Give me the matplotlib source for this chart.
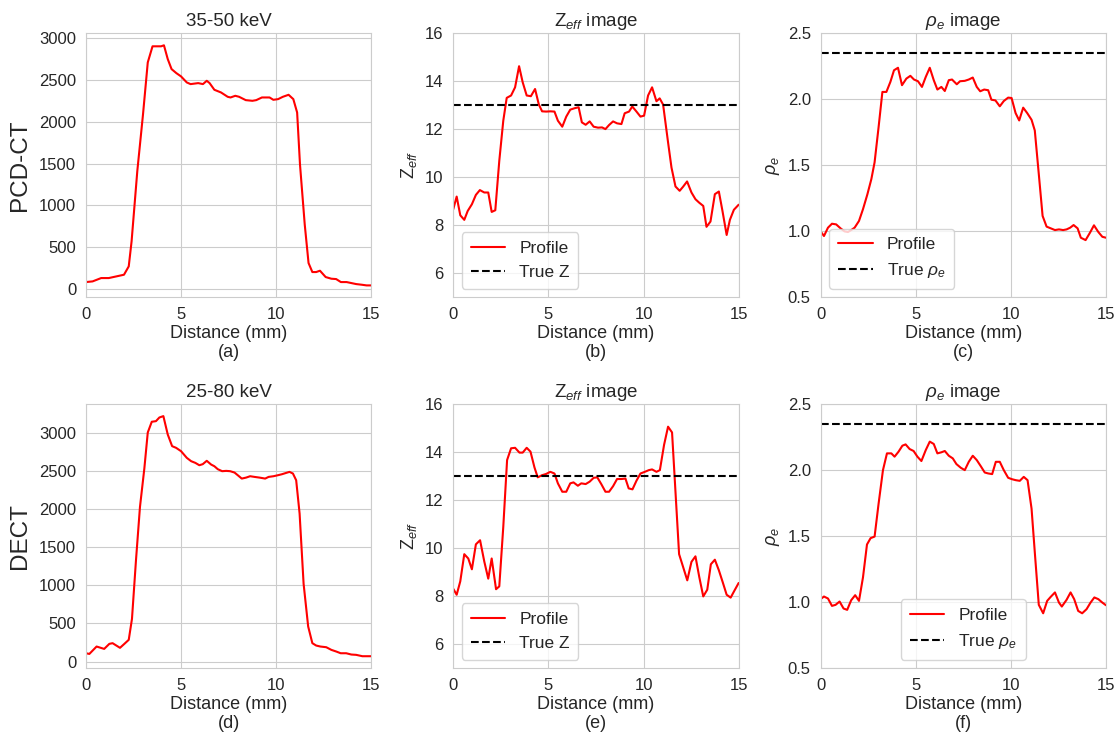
import numpy as np
import matplotlib
matplotlib.use("Agg")
import matplotlib.pyplot as plt
import seaborn as sns

sns.set_style("whitegrid")
plt.rcParams['font.family'] = ['Liberation Sans', 'DejaVu Sans']
plt.rcParams['mathtext.fontset'] = 'custom'
plt.rcParams['mathtext.rm'] = 'Liberation Sans'
plt.rcParams['mathtext.it'] = 'Liberation Sans:italic'
plt.rcParams['mathtext.bf'] = 'Liberation Sans:bold'

# ---------------- data ----------------
# (a) PCD-CT 35-50 keV
xa = [0, 0.35, 0.8, 1.2, 1.6, 2.0, 2.25, 2.4, 2.7, 3.0, 3.25, 3.5, 3.95, 4.1, 4.3, 4.5, 4.75, 5.0,
      5.3, 5.5, 5.9, 6.15, 6.35, 6.5, 6.75, 7.1, 7.45, 7.6, 7.85, 8.05, 8.4, 8.75, 8.95, 9.25, 9.65,
      9.85, 10.1, 10.35, 10.65, 10.9, 11.1, 11.25, 11.5, 11.7, 11.9, 12.1, 12.3, 12.6, 12.9, 13.15,
      13.4, 13.7, 13.95, 14.2, 14.5, 14.75, 15.0]
ya = [80, 88, 128, 128, 148, 168, 268, 569, 1410, 2090, 2712, 2905, 2905, 2917, 2752, 2632, 2584, 2544,
      2472, 2452, 2464, 2452, 2492, 2464, 2384, 2352, 2300, 2292, 2312, 2300, 2260, 2252, 2260, 2292, 2292,
      2264, 2272, 2300, 2324, 2272, 2112, 1490, 769, 308, 200, 200, 216, 140, 120, 116,
      80, 80, 68, 56, 48, 40, 40]

# (b) PCD-CT Zeff
xb = [0, 0.18, 0.37, 0.58, 0.76, 0.98, 1.19, 1.4, 1.63, 1.84, 2.02, 2.21, 2.42, 2.63, 2.81, 3.04,
      3.25, 3.46, 3.65, 3.86, 4.08, 4.3, 4.5, 4.67, 4.88, 5.11, 5.32, 5.5, 5.73, 5.94, 6.15, 6.38,
      6.59, 6.76, 6.96, 7.17, 7.38, 7.61, 7.82, 8.0, 8.19, 8.4, 8.61, 8.84, 9.01, 9.24, 9.41, 9.62,
      9.84, 10.03, 10.24, 10.45, 10.68, 10.85, 11.03, 11.29, 11.47, 11.68, 11.9, 12.08, 12.29, 12.52,
      12.73, 12.92, 13.14, 13.31, 13.52, 13.75, 13.96, 14.15, 14.37, 14.54, 14.75, 15.0]
yb = [8.67, 9.2, 8.42, 8.23, 8.6, 8.88, 9.27, 9.47, 9.37, 9.37, 8.56, 8.63, 10.69, 12.36, 13.31, 13.41,
      13.75, 14.63, 13.96, 13.41, 13.38, 13.68, 13.03, 12.75, 12.74, 12.75, 12.74, 12.36, 12.11, 12.53,
      12.82, 12.88, 12.92, 12.29, 12.19, 12.33, 12.11, 12.07, 12.08, 12.01, 12.18, 12.33, 12.25, 12.22,
      12.67, 12.74, 12.95, 12.75, 12.53, 12.57, 13.41, 13.75, 13.17, 13.29, 13.03, 11.46, 10.41, 9.62,
      9.44, 9.61, 9.83, 9.37, 9.09, 8.95, 8.81, 7.94, 8.16, 9.3, 9.41, 8.6, 7.6, 8.23, 8.65, 8.86]

# (c) PCD-CT rho_e
xc = [0, 0.18, 0.39, 0.6, 0.82, 1.05, 1.26, 1.44, 1.61, 1.79, 2.02, 2.23, 2.46, 2.67, 2.84, 3.05,
      3.25, 3.46, 3.67, 3.86, 4.07, 4.28, 4.51, 4.72, 4.91, 5.12, 5.33, 5.53, 5.74, 5.95, 6.14, 6.35,
      6.53, 6.74, 6.91, 7.16, 7.33, 7.58, 7.79, 8.0, 8.21, 8.39, 8.6, 8.81, 8.98, 9.19, 9.42, 9.63,
      9.86, 10.04, 10.25, 10.44, 10.65, 10.86, 11.09, 11.26, 11.47, 11.67, 11.88, 12.1, 12.32, 12.53,
      12.75, 12.93, 13.12, 13.3, 13.51, 13.68, 13.93, 14.16, 14.37, 14.6, 14.81, 15.0]
yc = [1.0, 0.965, 1.028, 1.058, 1.053, 1.023, 1.0, 0.995, 1.01, 1.028, 1.079, 1.168, 1.28, 1.396,
      1.523, 1.789, 2.056, 2.056, 2.132, 2.22, 2.239, 2.107, 2.157, 2.178, 2.15, 2.137, 2.094, 2.17,
      2.239, 2.145, 2.074, 2.094, 2.063, 2.145, 2.15, 2.114, 2.137, 2.14, 2.15, 2.165, 2.094, 2.061,
      2.074, 2.069, 1.997, 1.992, 1.947, 1.987, 2.013, 2.01, 1.896, 1.84, 1.937, 1.896, 1.845, 1.764,
      1.434, 1.117, 1.036, 1.023, 1.01, 1.015, 1.01, 1.015, 1.028, 1.048, 1.023, 0.952, 0.934, 0.99,
      1.046, 0.995, 0.959, 0.952]

# (d) DECT 25-80 keV
xd = [0, 0.18, 0.56, 0.96, 1.23, 1.4, 1.79, 2.02, 2.25, 2.42, 2.63, 2.84, 3.07, 3.25, 3.46, 3.68,
      3.86, 4.07, 4.3, 4.53, 4.74, 5.0, 5.3, 5.53, 5.75, 5.96, 6.14, 6.35, 6.58, 6.75, 6.93, 7.16,
      7.37, 7.58, 7.81, 7.98, 8.19, 8.42, 8.63, 8.86, 9.12, 9.42, 9.6, 9.86, 10.09, 10.3, 10.53, 10.7,
      10.88, 11.05, 11.23, 11.44, 11.68, 11.9, 12.1, 12.32, 12.63, 12.9, 13.16, 13.39, 13.68, 13.95,
      14.2, 14.53, 14.77, 15.0]
yd = [109, 100, 197, 166, 232, 241, 180, 232, 285, 560, 1327, 2027, 2531, 3003, 3144, 3152,
      3200, 3218, 2977, 2824, 2802, 2758, 2671, 2627, 2605, 2574, 2588, 2632, 2583, 2561, 2522, 2496,
      2500, 2496, 2478, 2443, 2399, 2412, 2430, 2421, 2412, 2399, 2421, 2430, 2443, 2456, 2474, 2487,
      2465, 2377, 1940, 1020, 460, 241, 210, 197, 188, 153, 131, 109, 109, 92,
      88, 70, 70, 70]

# (e) DECT Zeff
xe = [0, 0.18, 0.37, 0.58, 0.79, 0.98, 1.19, 1.41, 1.63, 1.84, 2.02, 2.25, 2.42, 2.63, 2.83, 3.04,
      3.25, 3.48, 3.65, 3.86, 4.06, 4.27, 4.44, 4.67, 4.88, 5.1, 5.32, 5.5, 5.73, 5.94, 6.15, 6.32,
      6.55, 6.73, 6.96, 7.17, 7.38, 7.57, 7.78, 8.0, 8.19, 8.4, 8.61, 8.84, 9.05, 9.22, 9.42, 9.63,
      9.84, 10.07, 10.28, 10.45, 10.68, 10.86, 11.08, 11.29, 11.5, 11.68, 11.87, 12.08, 12.3, 12.52,
      12.73, 12.93, 13.14, 13.35, 13.54, 13.75, 13.96, 14.16, 14.37, 14.58, 14.77, 15.0]
ye = [8.31, 8.06, 8.62, 9.75, 9.57, 9.12, 10.16, 10.33, 9.45, 8.73, 9.57, 8.29, 8.41, 10.89, 13.67,
      14.16, 14.18, 13.98, 13.98, 14.18, 14.02, 13.36, 12.95, 13.04, 13.09, 13.18, 13.11, 12.7, 12.35,
      12.35, 12.7, 12.74, 12.6, 12.7, 12.67, 12.77, 12.93, 12.95, 12.67, 12.35, 12.35, 12.58, 12.88,
      12.88, 12.9, 12.49, 12.45, 12.81, 13.11, 13.18, 13.25, 13.28, 13.18, 13.25, 14.3, 15.06, 14.82,
      12.35, 9.75, 9.22, 8.66, 9.43, 9.66, 8.8, 7.99, 8.27, 9.33, 9.52, 9.08, 8.59, 8.06, 7.94, 8.22, 8.55]

# (f) DECT rho_e
xf = [0, 0.18, 0.39, 0.6, 0.79, 1.0, 1.21, 1.4, 1.61, 1.82, 2.02, 2.23, 2.44, 2.63, 2.84, 3.05,
      3.28, 3.49, 3.72, 3.89, 4.1, 4.3, 4.47, 4.68, 4.89, 5.09, 5.3, 5.53, 5.74, 5.95, 6.14, 6.35,
      6.53, 6.74, 6.95, 7.14, 7.37, 7.58, 7.79, 8.0, 8.21, 8.42, 8.63, 8.81, 9.02, 9.21, 9.42, 9.63,
      9.86, 10.07, 10.26, 10.47, 10.68, 10.88, 11.09, 11.26, 11.47, 11.7, 11.91, 12.1, 12.32, 12.53,
      12.68, 12.93, 13.14, 13.33, 13.54, 13.75, 13.98, 14.19, 14.39, 14.6, 14.81, 15.0]
yf = [1.023, 1.043, 1.028, 0.972, 0.98, 1.005, 0.952, 0.942, 1.015, 1.053, 1.01, 1.188, 1.437, 1.485,
      1.497, 1.746, 2.0, 2.127, 2.127, 2.102, 2.14, 2.185, 2.195, 2.16, 2.145, 2.102, 2.069, 2.152,
      2.216, 2.198, 2.127, 2.135, 2.145, 2.109, 2.089, 2.046, 2.018, 2.0, 2.063, 2.109, 2.076, 2.03,
      1.982, 1.975, 1.97, 2.063, 2.063, 2.0, 1.942, 1.931, 1.924, 1.919, 1.949, 1.924, 1.708, 1.378,
      0.98, 0.916, 1.01, 1.041, 1.074, 0.997, 0.967, 1.018, 1.074, 1.023, 0.934, 0.916, 0.947, 0.997,
      1.036, 1.023, 0.997, 0.977]

true_z = 13.0
true_rho = 2.35

row_labels = ["PCD-CT", "DECT"]
energy_titles = ["35-50 keV", "25-80 keV"]
panel_letters = [["(a)", "(b)", "(c)"], ["(d)", "(e)", "(f)"]]

# ---------------- plot ----------------
fig, axes = plt.subplots(2, 3, figsize=(11.16, 7.4), dpi=100)
fig.subplots_adjust(left=0.077, right=0.991, top=0.955, bottom=0.097, wspace=0.287, hspace=0.404)

TICK_FS = 12
LAB_FS = 13
TITLE_FS = 13.5
LEG_FS = 12.5
text_color = "#262626"

counts = [(xa, ya), (xd, yd)]
zeffs = [(xb, yb), (xe, ye)]
rhos = [(xc, yc), (xf, yf)]
legend_locs = [["lower left", "lower left"], ["lower left", "lower center"]]

for r in range(2):
    # counts
    ax = axes[r, 0]
    ax.plot(counts[r][0], counts[r][1], color="red", lw=1.5)
    ax.set_title(energy_titles[r], fontsize=TITLE_FS, color=text_color, pad=5)
    ax.set_ylabel(row_labels[r], fontsize=17.5, color=text_color, labelpad=6)

    # zeff
    ax = axes[r, 1]
    ax.plot(zeffs[r][0], zeffs[r][1], color="red", lw=1.5, label="Profile")
    ax.axhline(true_z, color="black", ls="--", lw=1.5, label="True Z")
    ax.set_ylim(5, 16)
    ax.set_yticks([6, 8, 10, 12, 14, 16])
    ax.set_title(r"Z$_{eff}$ image", fontsize=TITLE_FS, color=text_color, pad=5)
    ax.set_ylabel(r"Z$_{eff}$", fontsize=LAB_FS, color=text_color)
    ax.legend(loc=legend_locs[0][r], fontsize=LEG_FS, borderpad=0.5)

    # rho
    ax = axes[r, 2]
    ax.plot(rhos[r][0], rhos[r][1], color="red", lw=1.5, label="Profile")
    ax.axhline(true_rho, color="black", ls="--", lw=1.5, label=r"True $\rho_e$")
    ax.set_ylim(0.5, 2.5)
    ax.set_yticks([0.5, 1.0, 1.5, 2.0, 2.5])
    ax.set_title(r"$\rho_e$ image", fontsize=TITLE_FS, color=text_color, pad=5)
    ax.set_ylabel(r"$\rho_e$", fontsize=LAB_FS, color=text_color)
    ax.legend(loc=legend_locs[1][r], fontsize=LEG_FS, borderpad=0.5)

    for c in range(3):
        ax = axes[r, c]
        ax.set_xlim(0, 15)
        ax.set_xticks([0, 5, 10, 15])
        ax.set_xlabel("Distance (mm)\n" + panel_letters[r][c], fontsize=LAB_FS,
                      color=text_color, linespacing=1.15)
        ax.tick_params(labelsize=TICK_FS, colors=text_color)
        ax.xaxis.labelpad = 2

fig.savefig("out.png", dpi=100)
